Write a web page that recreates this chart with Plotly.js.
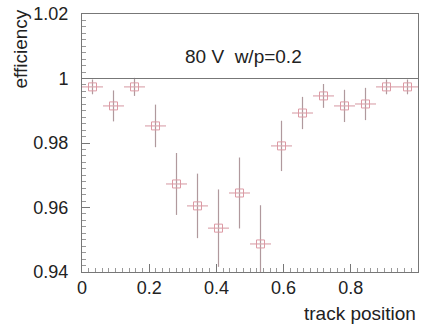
<!DOCTYPE html>
<html>
<head>
<meta charset="utf-8">
<script src="https://cdn.plot.ly/plotly-3.0.1.min.js"></script>
<style>html,body{margin:0;padding:0;background:#fff}#chart{width:422px;height:325px}</style>
</head>
<body>
<div id="chart"></div>
<script>
const trackPosition = [0.03125,0.09375,0.15625,0.21875,0.28125,0.34375,0.40625,0.46875,0.53125,0.59375,0.65625,0.71875,0.78125,0.84375,0.90625,0.96875];
const efficiency = [0.9974,0.9915,0.9974,0.9853,0.9673,0.9605,0.9536,0.9645,0.9487,0.9791,0.9893,0.9946,0.9915,0.9921,0.9974,0.9974];
const effError = [0.0023,0.0048,0.0028,0.0066,0.0096,0.0100,0.0120,0.0110,0.0120,0.0078,0.0050,0.0037,0.0050,0.0050,0.0023,0.0023];
const binHalfWidth = [0.03125,0.03125,0.03125,0.03125,0.03125,0.03125,0.03125,0.03125,0.03125,0.03125,0.03125,0.03125,0.03125,0.03125,0.03125,0.03125];
const refLine = 1.0;
const labelText = "80 V&nbsp; w/p=0.2";
const labelPos = {x: 0.48, y: 1.0068};

const font = "Liberation Sans, Arial, sans-serif";
const trace = {
  x: trackPosition, y: efficiency, type: 'scatter', mode: 'markers',
  marker: {symbol: 'square-open', size: 8, color: '#dc9aa4', line: {width: 1, color: '#dc9aa4'}},
  error_y: {type: 'data', array: effError, visible: true, width: 0, thickness: 1.2, color: '#b0999d'},
  error_x: {type: 'data', array: binHalfWidth, visible: true, width: 0, thickness: 1.2, color: '#dca8b0'},
  cliponaxis: true
};
const layout = {
  width: 422, height: 325,
  margin: {l: 82, r: 4, t: 14, b: 53},
  paper_bgcolor: '#fff', plot_bgcolor: '#fff',
  showlegend: false,
  font: {family: font, size: 18, color: '#222'},
  xaxis: {
    range: [0, 1], tickvals: [0,0.2,0.4,0.6,0.8,1], ticktext: ['0','0.2','0.4','0.6','0.8','1'],
    ticks: 'inside', ticklen: 8, tickcolor: '#777', tickwidth: 1,
    minor: {dtick: 0.02, ticks: 'inside', ticklen: 4, tickcolor: '#999', tickwidth: 1},
    showline: true, linecolor: '#777', linewidth: 1, mirror: true, showgrid: false, zeroline: false,
    tickfont: {family: font, size: 18, color: '#222'}, ticklabelstandoff: -1
  },
  yaxis: {
    range: [0.94, 1.02], tickvals: [0.94,0.96,0.98,1,1.02], ticktext: ['0.94','0.96','0.98','1','1.02'],
    ticks: 'inside', ticklen: 8, tickcolor: '#777', tickwidth: 1,
    minor: {dtick: 0.002, ticks: 'inside', ticklen: 4, tickcolor: '#999', tickwidth: 1},
    showline: true, linecolor: '#777', linewidth: 1, mirror: true, showgrid: false, zeroline: false,
    tickfont: {family: font, size: 18, color: '#222'}, ticklabelstandoff: 9
  },
  shapes: [{type: 'line', xref: 'paper', x0: 0, x1: 1, yref: 'y', y0: refLine, y1: refLine, line: {color: '#777', width: 1}}],
  annotations: [
    {text: labelText, x: labelPos.x, y: labelPos.y, xref: 'x', yref: 'y', showarrow: false, font: {family: font, size: 19, color: '#222'}},
    {text: 'track position', xref: 'paper', yref: 'paper', x: 1, y: 0, xanchor: 'right', yanchor: 'top', yshift: -29, showarrow: false, font: {family: font, size: 19, color: '#222'}},
    {text: 'efficiency', xref: 'paper', yref: 'paper', x: 0, y: 1, xanchor: 'center', yanchor: 'top', xshift: -62, yshift: 6, textangle: -90, showarrow: false, font: {family: font, size: 19, color: '#222'}}
  ]
};
Plotly.newPlot('chart', [trace], layout, {staticPlot: true, displayModeBar: false});
</script>
</body>
</html>
